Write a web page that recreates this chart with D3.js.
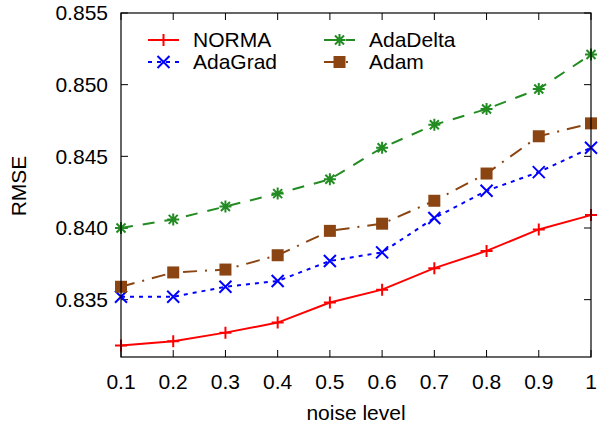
<!DOCTYPE html>
<html lang="en">
<head>
    <meta charset="UTF-8">
    <title>RMSE vs noise level</title>
    <script src="https://d3js.org/d3.v7.min.js"></script>
    <style>
        body { margin: 0; background: #fff; }
        svg { display: block; font-family: "Liberation Sans", Arial, sans-serif; }
        .tick-label { font-size: 21px; fill: #000; }
        .axis-title { font-size: 21px; fill: #000; }
        .legend-label { font-size: 21px; fill: #000; }
    </style>
</head>
<body>
    <svg id="chart" width="600" height="427"></svg>

    <script>
        // Data
        const noiseLevels = [0.1, 0.2, 0.3, 0.4, 0.5, 0.6, 0.7, 0.8, 0.9, 1.0];
        const xTickLabels = ["0.1", "0.2", "0.3", "0.4", "0.5", "0.6", "0.7", "0.8", "0.9", "1"];
        const yTicks = [0.835, 0.840, 0.845, 0.850, 0.855];

        const normaValues    = [0.8318, 0.8321, 0.8327, 0.8334, 0.8348, 0.8357, 0.8372, 0.8384, 0.8399, 0.8409];
        const adaGradValues  = [0.8352, 0.8352, 0.8359, 0.8363, 0.8377, 0.8383, 0.8407, 0.8426, 0.8439, 0.8456];
        const adaDeltaValues = [0.8400, 0.8406, 0.8415, 0.8424, 0.8434, 0.8456, 0.8472, 0.8483, 0.8497, 0.8521];
        const adamValues     = [0.8359, 0.8369, 0.8371, 0.8381, 0.8398, 0.8403, 0.8419, 0.8438, 0.8464, 0.8473];

        const series = [
            { name: "NORMA",    values: normaValues,    color: "#ff0000", dash: null,              marker: "plus" },
            { name: "AdaGrad",  values: adaGradValues,  color: "#0000ff", dash: "4,5",             marker: "cross" },
            { name: "AdaDelta", values: adaDeltaValues, color: "#228b22", dash: "12,10",           marker: "star" },
            { name: "Adam",     values: adamValues,     color: "#8b4513", dash: "14,8,2,8",        marker: "square" }
        ];

        const svg = d3.select("#chart");
        const margin = { top: 13, right: 9, bottom: 70, left: 121 };
        const width = 600 - margin.left - margin.right;
        const height = 427 - margin.top - margin.bottom;

        const chart = svg.append("g")
            .attr("transform", `translate(${margin.left}, ${margin.top})`);

        const x = d3.scaleLinear().domain([0.1, 1.0]).range([0, width]);
        const y = d3.scaleLinear().domain([0.831, 0.855]).range([height, 0]);

        // Tick marks (inward, mirrored like gnuplot)
        const tickLen = 7;
        chart.selectAll(".xtick-b").data(noiseLevels).enter().append("line")
            .attr("x1", d => x(d)).attr("x2", d => x(d))
            .attr("y1", height).attr("y2", height - tickLen)
            .attr("stroke", "#000").attr("stroke-width", 1);
        chart.selectAll(".xtick-t").data(noiseLevels).enter().append("line")
            .attr("x1", d => x(d)).attr("x2", d => x(d))
            .attr("y1", 0).attr("y2", tickLen)
            .attr("stroke", "#000").attr("stroke-width", 1);
        chart.selectAll(".ytick-l").data(yTicks).enter().append("line")
            .attr("x1", 0).attr("x2", tickLen)
            .attr("y1", d => y(d)).attr("y2", d => y(d))
            .attr("stroke", "#000").attr("stroke-width", 1);
        chart.selectAll(".ytick-r").data(yTicks).enter().append("line")
            .attr("x1", width).attr("x2", width - tickLen)
            .attr("y1", d => y(d)).attr("y2", d => y(d))
            .attr("stroke", "#000").attr("stroke-width", 1);

        // Tick labels
        chart.selectAll(".xlab").data(noiseLevels).enter().append("text")
            .attr("class", "tick-label")
            .attr("x", d => x(d))
            .attr("y", height + 32)
            .attr("text-anchor", "middle")
            .text((d, i) => xTickLabels[i]);
        chart.selectAll(".ylab").data(yTicks).enter().append("text")
            .attr("class", "tick-label")
            .attr("x", -13)
            .attr("y", d => y(d))
            .attr("dy", "0.35em")
            .attr("text-anchor", "end")
            .text(d => d.toFixed(3));

        // Axis titles
        chart.append("text")
            .attr("class", "axis-title")
            .attr("x", width / 2)
            .attr("y", height + 63)
            .attr("text-anchor", "middle")
            .text("noise level");
        chart.append("text")
            .attr("class", "axis-title")
            .attr("transform", "rotate(-90)")
            .attr("x", -(186 - margin.top))
            .attr("y", -95)
            .attr("text-anchor", "middle")
            .text("RMSE");

        // Marker drawing
        function drawMarker(g, type, color) {
            const s = 6;
            if (type === "plus") {
                g.append("path").attr("d", `M${-s},0H${s}M0,${-s}V${s}`)
                    .attr("stroke", color).attr("stroke-width", 2).attr("fill", "none");
            } else if (type === "cross") {
                g.append("path").attr("d", `M${-s},${-s}L${s},${s}M${-s},${s}L${s},${-s}`)
                    .attr("stroke", color).attr("stroke-width", 2).attr("fill", "none");
            } else if (type === "star") {
                const t = 4.5;
                g.append("path").attr("d", `M${-s},0H${s}M0,${-s}V${s}M${-t},${-t}L${t},${t}M${-t},${t}L${t},${-t}`)
                    .attr("stroke", color).attr("stroke-width", 2).attr("fill", "none");
            } else if (type === "square") {
                g.append("rect").attr("x", -6).attr("y", -6).attr("width", 12).attr("height", 12)
                    .attr("fill", color);
            }
        }

        const line = d3.line()
            .x((d, i) => x(noiseLevels[i]))
            .y(d => y(d));

        series.forEach(s => {
            chart.append("path")
                .datum(s.values)
                .attr("fill", "none")
                .attr("stroke", s.color)
                .attr("stroke-width", 2)
                .attr("stroke-dasharray", s.dash)
                .attr("d", line);
            s.values.forEach((v, i) => {
                const g = chart.append("g")
                    .attr("transform", `translate(${x(noiseLevels[i])}, ${y(v)})`);
                drawMarker(g, s.marker, s.color);
            });
        });

        // Frame
        chart.append("rect")
            .attr("width", width).attr("height", height)
            .attr("fill", "none").attr("stroke", "#000").attr("stroke-width", 1.2);

        // Legend (two columns)
        const legendPos = [
            { lx: 27, ty: 27 }, { lx: 27, ty: 49 },
            { lx: 203, ty: 27 }, { lx: 203, ty: 49 }
        ];
        series.forEach((s, i) => {
            const p = legendPos[i];
            const lg = chart.append("g").attr("transform", `translate(${p.lx}, ${p.ty})`);
            lg.append("line")
                .attr("x1", 0).attr("x2", 31).attr("y1", 0).attr("y2", 0)
                .attr("stroke", s.color).attr("stroke-width", 2)
                .attr("stroke-dasharray", s.dash);
            drawMarker(lg.append("g").attr("transform", "translate(15.5,0)"), s.marker, s.color);
            lg.append("text")
                .attr("class", "legend-label")
                .attr("x", 45)
                .attr("y", 0)
                .attr("dy", "0.35em")
                .text(s.name);
        });
    </script>
</body>
</html>
